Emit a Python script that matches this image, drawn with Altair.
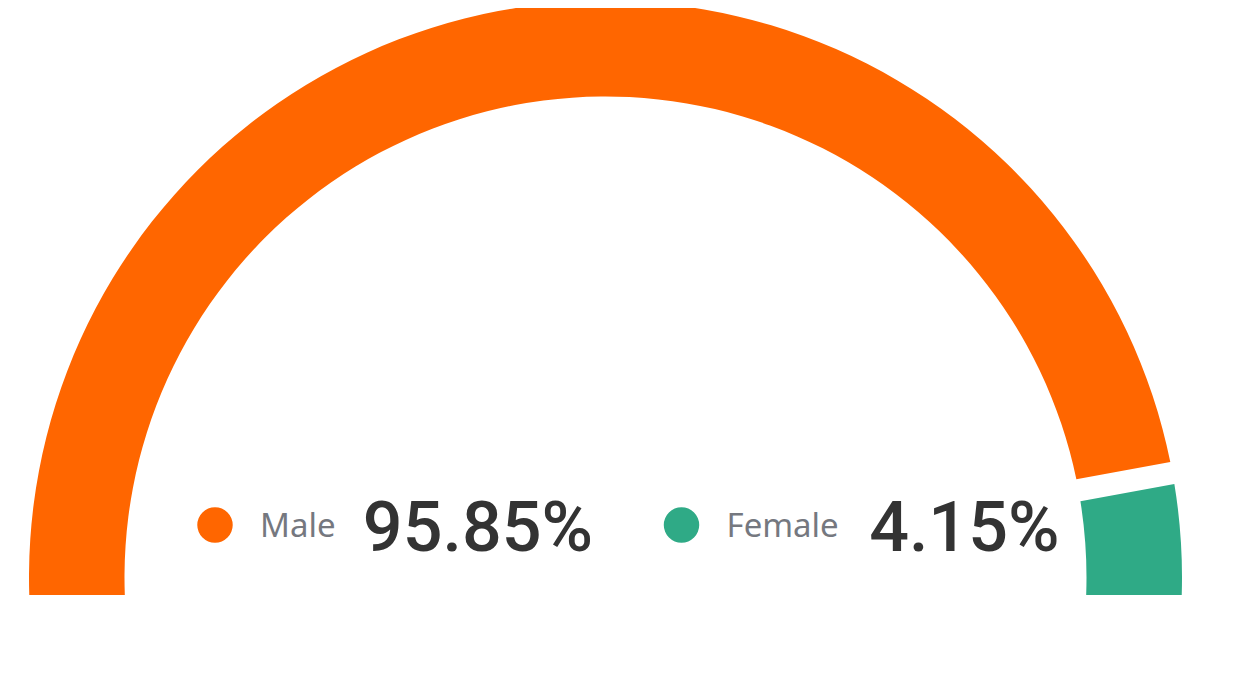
import math
import altair as alt
import pandas as pd

# ---- data ----
categories = ["Male", "Female"]
values = [95.85, 4.15]
colors = ["#FF6600", "#2FAA86"]

df = pd.DataFrame({"category": categories, "value": values})

# ---- layout (pixels, chart coordinates) ----
W, H = 1244, 587
CX, CY = 597.5, 569.5
THETA_START = math.radians(-251.9)  # arc start, far below the (clipped) baseline
THETA_END = math.radians(93.9)      # arc end, just below the baseline on the right

color_scale = alt.Scale(domain=categories, range=colors)
x_scale = alt.Scale(type="point", domain=categories, range=[207, 673.5], padding=0)

arc = alt.Chart(df).mark_arc(
    radius=576.5, radius2=481, padAngle=0.0297, clip=True
).encode(
    theta=alt.Theta("value:Q", stack=True,
                    scale=alt.Scale(range=[THETA_START, THETA_END])),
    color=alt.Color("category:N", scale=color_scale, legend=None),
    order=alt.Order("category:N", sort="descending"),
    x=alt.value(CX),
    y=alt.value(CY),
)

dots = alt.Chart(df).mark_circle(size=1257, opacity=1).encode(
    x=alt.X("category:N", scale=x_scale, axis=None),
    y=alt.value(517),
    color=alt.Color("category:N", scale=color_scale, legend=None),
)

labels = alt.Chart(df).mark_text(
    align="left", baseline="alphabetic", dx=45, fontSize=33,
    font="Noto Sans", color="#75787f",
).encode(
    x=alt.X("category:N", scale=x_scale, axis=None),
    y=alt.value(529),
    text="category:N",
)

nums = alt.Chart(df).transform_calculate(
    label="format(datum.value, '.2f') + '%'"
).mark_text(
    align="right", baseline="alphabetic", dx=378, fontSize=70,
    font="Roboto", fontWeight=500, color="#333333",
).encode(
    x=alt.X("category:N", scale=x_scale, axis=None),
    y=alt.value(543),
    text="label:N",
)

chart = alt.layer(arc, dots, labels, nums).properties(
    width=W, height=H, padding=0, autosize="none"
).configure_view(strokeWidth=0)

chart.save("out.html", embed_options={"renderer": "svg", "actions": False})
